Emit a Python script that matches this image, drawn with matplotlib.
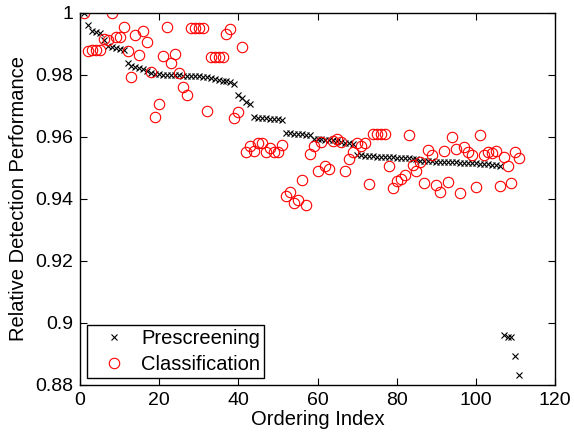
import numpy as np
import matplotlib
matplotlib.use('Agg')
import matplotlib.pyplot as plt

plt.rcParams['font.family'] = ['Liberation Sans', 'DejaVu Sans']

# relative detection performance for each ordering index (1..111)
prescreening = [
    1.0000, 0.9961, 0.9942, 0.9939, 0.9936, 0.9914, 0.9894, 0.9890, 0.9887, 0.9884,
    0.9882, 0.9838, 0.9830, 0.9826, 0.9822, 0.9818, 0.9813, 0.9806, 0.9803, 0.9802,
    0.9801, 0.9800, 0.9800, 0.9799, 0.9799, 0.9798, 0.9798, 0.9797, 0.9797, 0.9796,
    0.9795, 0.9794, 0.9790, 0.9788, 0.9785, 0.9782, 0.9779, 0.9776, 0.9772, 0.9735,
    0.9725, 0.9713, 0.9708, 0.9664, 0.9662, 0.9661, 0.9660, 0.9659, 0.9658, 0.9657,
    0.9656, 0.9613, 0.9612, 0.9611, 0.9610, 0.9609, 0.9608, 0.9606, 0.9594, 0.9593,
    0.9592, 0.9591, 0.9590, 0.9589, 0.9587, 0.9585, 0.9582, 0.9579, 0.9576, 0.9543,
    0.9541, 0.9540, 0.9539, 0.9538, 0.9537, 0.9536, 0.9535, 0.9535, 0.9534, 0.9533,
    0.9533, 0.9532, 0.9531, 0.9530, 0.9529, 0.9523, 0.9522, 0.9521, 0.9521, 0.9520,
    0.9520, 0.9519, 0.9519, 0.9518, 0.9518, 0.9517, 0.9517, 0.9516, 0.9516, 0.9515,
    0.9514, 0.9513, 0.9512, 0.9511, 0.9510, 0.9508, 0.8960, 0.8956, 0.8955, 0.8892,
    0.8832,
]

classification = [
    1.0000, 0.9878, 0.9879, 0.9880, 0.9881, 0.9916, 0.9912, 1.0000, 0.9922, 0.9922,
    0.9956, 0.9876, 0.9792, 0.9930, 0.9864, 0.9942, 0.9908, 0.9811, 0.9666, 0.9705,
    0.9860, 0.9954, 0.9840, 0.9867, 0.9808, 0.9762, 0.9736, 0.9952, 0.9952, 0.9952,
    0.9952, 0.9683, 0.9857, 0.9857, 0.9858, 0.9859, 0.9932, 0.9948, 0.9660, 0.9679,
    0.9889, 0.9550, 0.9571, 0.9555, 0.9579, 0.9579, 0.9551, 0.9563, 0.9551, 0.9551,
    0.9573, 0.9409, 0.9422, 0.9388, 0.9396, 0.9461, 0.9380, 0.9544, 0.9571, 0.9490,
    0.9584, 0.9506, 0.9498, 0.9587, 0.9595, 0.9584, 0.9490, 0.9530, 0.9551, 0.9579,
    0.9571, 0.9579, 0.9449, 0.9610, 0.9610, 0.9610, 0.9610, 0.9506, 0.9436, 0.9458,
    0.9463, 0.9477, 0.9606, 0.9509, 0.9489, 0.9520, 0.9450, 0.9558, 0.9542, 0.9446,
    0.9422, 0.9555, 0.9456, 0.9600, 0.9560, 0.9420, 0.9568, 0.9553, 0.9542, 0.9438,
    0.9605, 0.9542, 0.9553, 0.9547, 0.9555, 0.9441, 0.9535, 0.9508, 0.9452, 0.9553,
    0.9533,
]

idx = np.arange(1, len(prescreening) + 1)

xticks = [0, 20, 40, 60, 80, 100, 120]
yticks = [0.88, 0.9, 0.92, 0.94, 0.96, 0.98, 1.0]
yticklabels = ['0.88', '0.9', '0.92', '0.94', '0.96', '0.98', '1']

fig = plt.figure(figsize=(5.74, 4.40), dpi=100)
ax = fig.add_axes([0.1394, 0.125, 0.8275, 0.8455])

ax.plot(idx, prescreening, 'x', color='black', markersize=4.5,
        markeredgewidth=0.8, label='Prescreening')
ax.plot(idx, classification, 'o', markerfacecolor='none',
        markeredgecolor='red', markersize=7.5, markeredgewidth=0.8,
        label='Classification')

ax.set_xlim(0, 120)
ax.set_ylim(0.88, 1.0)
ax.set_xticks(xticks)
ax.set_yticks(yticks)
ax.set_yticklabels(yticklabels)
ax.tick_params(direction='in', top=True, right=True, length=5,
               labelsize=14, pad=5)
for s in ax.spines.values():
    s.set_linewidth(1.0)

ax.set_xlabel('Ordering Index', fontsize=14.5, labelpad=1)
ax.set_ylabel('Relative Detection Performance', fontsize=14.5, labelpad=5)

leg = ax.legend(loc='lower left', fontsize=14.5, fancybox=False,
                edgecolor='black', framealpha=1, borderpad=0.2,
                handlelength=2.3, handletextpad=0.2, labelspacing=0.35,
                bbox_to_anchor=(0.0, 0.0), borderaxespad=0.35)
leg.get_frame().set_linewidth(1.0)

fig.savefig('out.png', dpi=100)
